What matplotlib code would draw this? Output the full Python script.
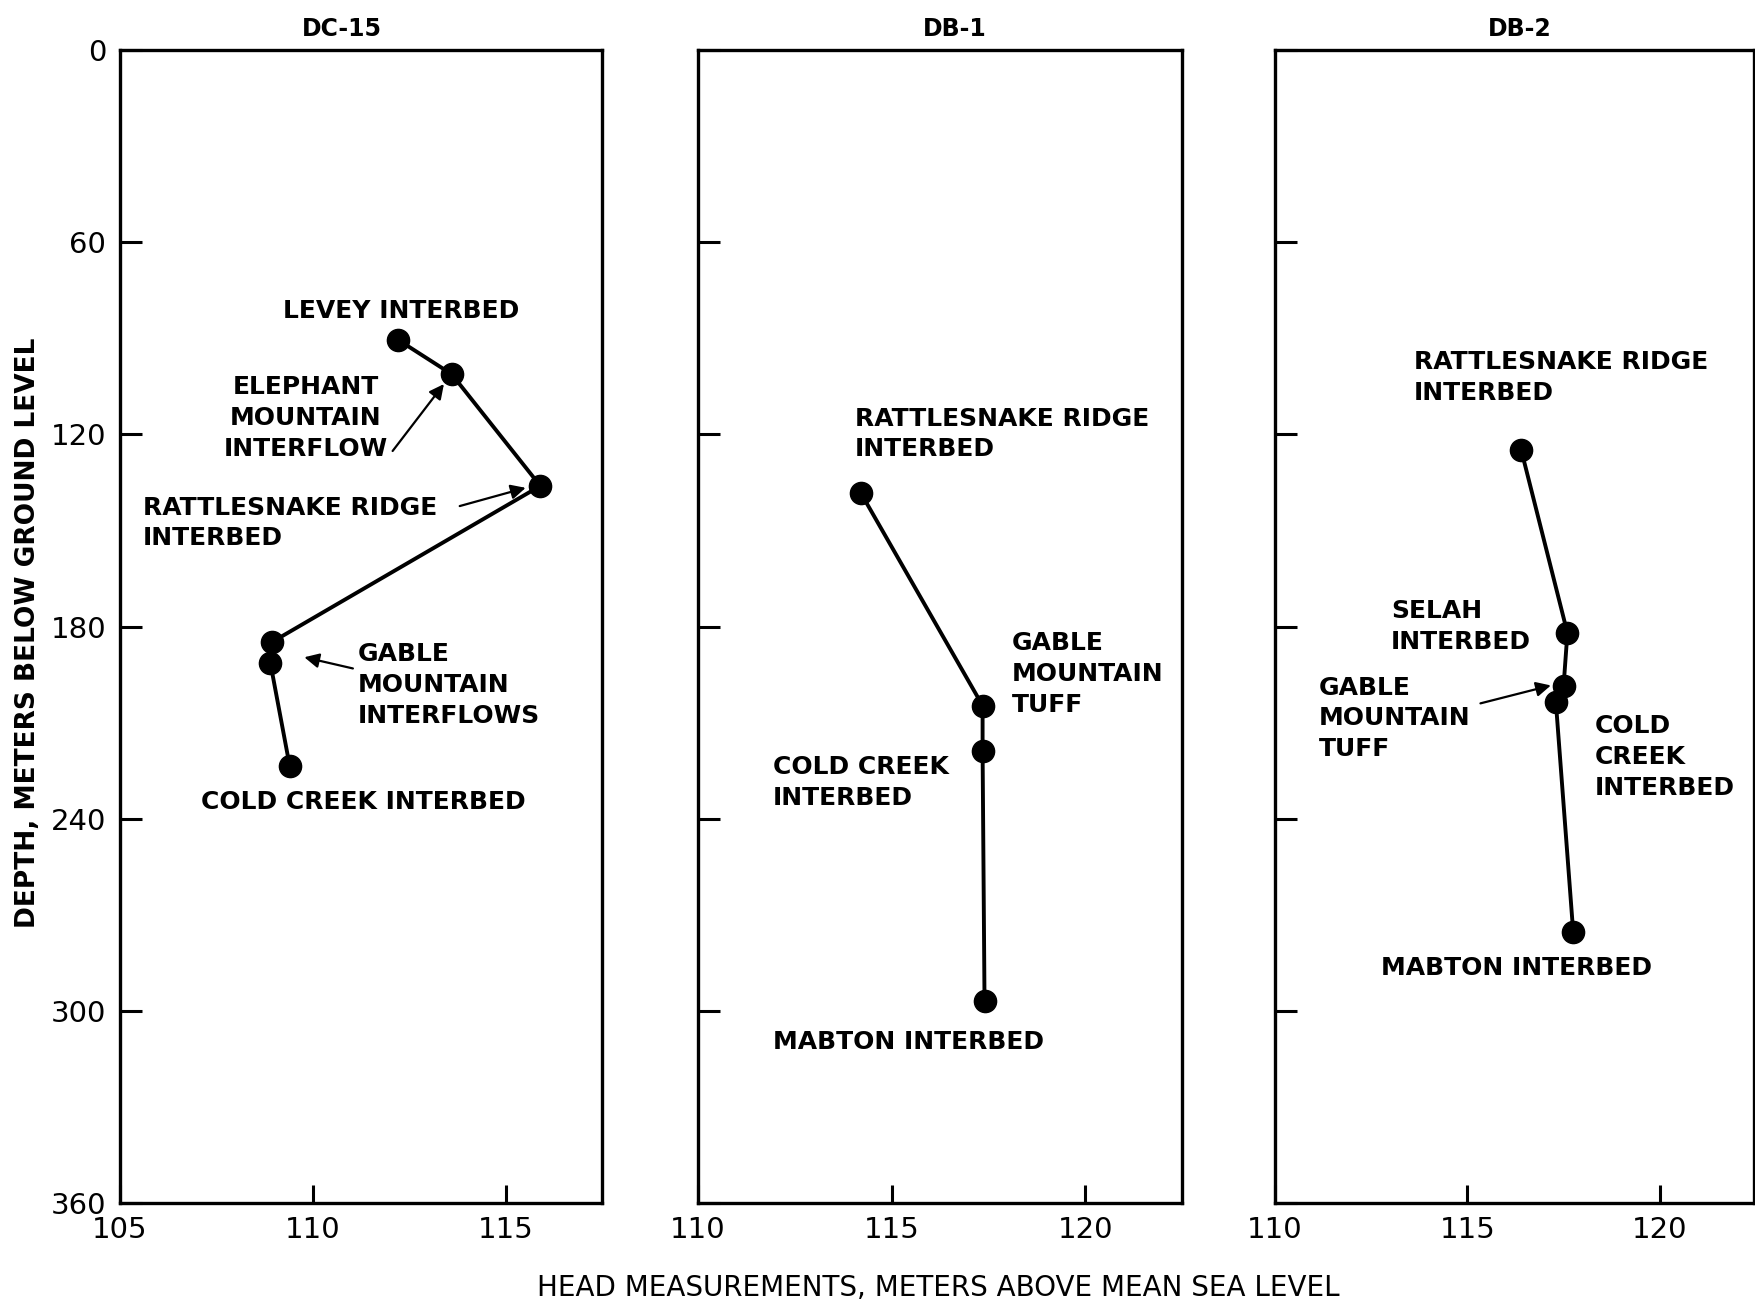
import matplotlib.pyplot as plt
from matplotlib import font_manager

installed = {f.name for f in font_manager.fontManager.ttflist}
NARROW = 'Liberation Sans Narrow' if 'Liberation Sans Narrow' in installed else 'DejaVu Sans'
WIDE = 'DejaVu Sans'

# head (m above MSL) and depth (m below ground) for each well
dc15_head = [112.2, 113.6, 115.9, 108.95, 108.9, 109.4]
dc15_depth = [90.4, 101.2, 136.1, 184.8, 191.4, 223.5]

db1_head = [114.2, 117.35, 117.35, 117.4]
db1_depth = [138.2, 204.7, 219.0, 297.0]

db2_head = [116.4, 117.6, 117.5, 117.3, 117.75]
db2_depth = [124.9, 182.0, 198.7, 203.6, 275.3]

wells = ['DC-15', 'DB-1', 'DB-2']
depth_ticks = [0, 60, 120, 180, 240, 300, 360]
head_ticks = [[105, 110, 115], [110, 115, 120], [110, 115, 120]]
xlims = [(105, 117.5), (110, 122.5), (110, 122.45)]

fig = plt.figure(figsize=(17.56, 13.05), dpi=100)
W, H = 1756, 1305
boxes = [(120, 482), (698, 484), (1275, 479)]
axes = []
for (x0, w) in boxes:
    ax = fig.add_axes([x0 / W, 1 - 1203 / H, w / W, 1153 / H])
    axes.append(ax)

series = [(dc15_head, dc15_depth), (db1_head, db1_depth), (db2_head, db2_depth)]
title_x = [0.46, 0.53, 0.51]

for i, ax in enumerate(axes):
    hx, dy = series[i]
    ax.plot(hx, dy, color='black', lw=2.8, marker='o', markersize=16,
            markerfacecolor='black', markeredgecolor='black', solid_capstyle='round')
    ax.set_xlim(*xlims[i])
    ax.set_ylim(360, 0)
    ax.set_yticks(depth_ticks)
    ax.set_xticks(head_ticks[i])
    ax.tick_params(axis='y', direction='in', length=16, width=2.2, pad=10,
                   labelsize=21, left=True, right=False)
    ax.tick_params(axis='x', direction='in', length=13, width=2.2, pad=9,
                   labelsize=21, top=False)
    for lab in ax.get_xticklabels() + ax.get_yticklabels():
        lab.set_fontfamily(NARROW)
    if i > 0:
        ax.set_yticklabels([])
    for sp in ax.spines.values():
        sp.set_linewidth(2.4)
    ax.set_title(wells[i], x=title_x[i], fontsize=17, fontweight='bold',
                 family=WIDE, pad=10)

txt = dict(fontsize=18, family=WIDE, fontweight='bold', color='black', linespacing=1.35)
arrow = dict(arrowstyle='-|>', lw=1.6, color='black', mutation_scale=22,
             shrinkA=0, shrinkB=0)

# DC-15 annotations
a = axes[0]
a.text(109.22, 81.5, 'LEVEY INTERBED', va='center', ha='left', **txt)
a.text(109.81, 114.9, 'ELEPHANT\nMOUNTAIN\nINTERFLOW', va='center', ha='center',
       multialignment='center', **txt)
a.annotate('', xy=(113.40, 104.3), xytext=(112.07, 125.2), arrowprops=arrow)
a.text(105.6, 147.7, 'RATTLESNAKE RIDGE\nINTERBED', va='center', ha='left', **txt)
a.annotate('', xy=(115.52, 136.7), xytext=(113.81, 142.4), arrowprops=arrow)
a.text(111.17, 198.3, 'GABLE\nMOUNTAIN\nINTERFLOWS', va='center', ha='left', **txt)
a.annotate('', xy=(109.78, 189.6), xytext=(111.04, 193.1), arrowprops=arrow)
a.text(107.09, 234.8, 'COLD CREEK INTERBED', va='center', ha='left', **txt)

# DB-1 annotations
a = axes[1]
a.text(114.06, 119.9, 'RATTLESNAKE RIDGE\nINTERBED', va='center', ha='left', **txt)
a.text(118.11, 194.8, 'GABLE\nMOUNTAIN\nTUFF', va='center', ha='left', **txt)
a.text(111.94, 228.8, 'COLD CREEK\nINTERBED', va='center', ha='left', **txt)
a.text(111.94, 309.6, 'MABTON INTERBED', va='center', ha='left', **txt)

# DB-2 annotations
a = axes[2]
a.text(113.6, 102.2, 'RATTLESNAKE RIDGE\nINTERBED', va='center', ha='left', **txt)
a.text(113.01, 179.9, 'SELAH\nINTERBED', va='center', ha='left', **txt)
a.text(111.15, 208.7, 'GABLE\nMOUNTAIN\nTUFF', va='center', ha='left', **txt)
a.annotate('', xy=(117.17, 198.4), xytext=(115.34, 204.0), arrowprops=arrow)
a.text(118.31, 220.7, 'COLD\nCREEK\nINTERBED', va='center', ha='left', **txt)
a.text(112.75, 286.5, 'MABTON INTERBED', va='center', ha='left', **txt)

fig.text(938 / W, 1 - 1288 / H, 'HEAD MEASUREMENTS, METERS ABOVE MEAN SEA LEVEL',
         ha='center', va='center', fontsize=20, family=NARROW)
fig.text(28 / W, 1 - 633 / H, 'DEPTH, METERS BELOW GROUND LEVEL', rotation=90,
         ha='center', va='center', fontsize=19, family=NARROW, fontweight='bold')

fig.savefig('out.png', dpi=100, facecolor='white')
